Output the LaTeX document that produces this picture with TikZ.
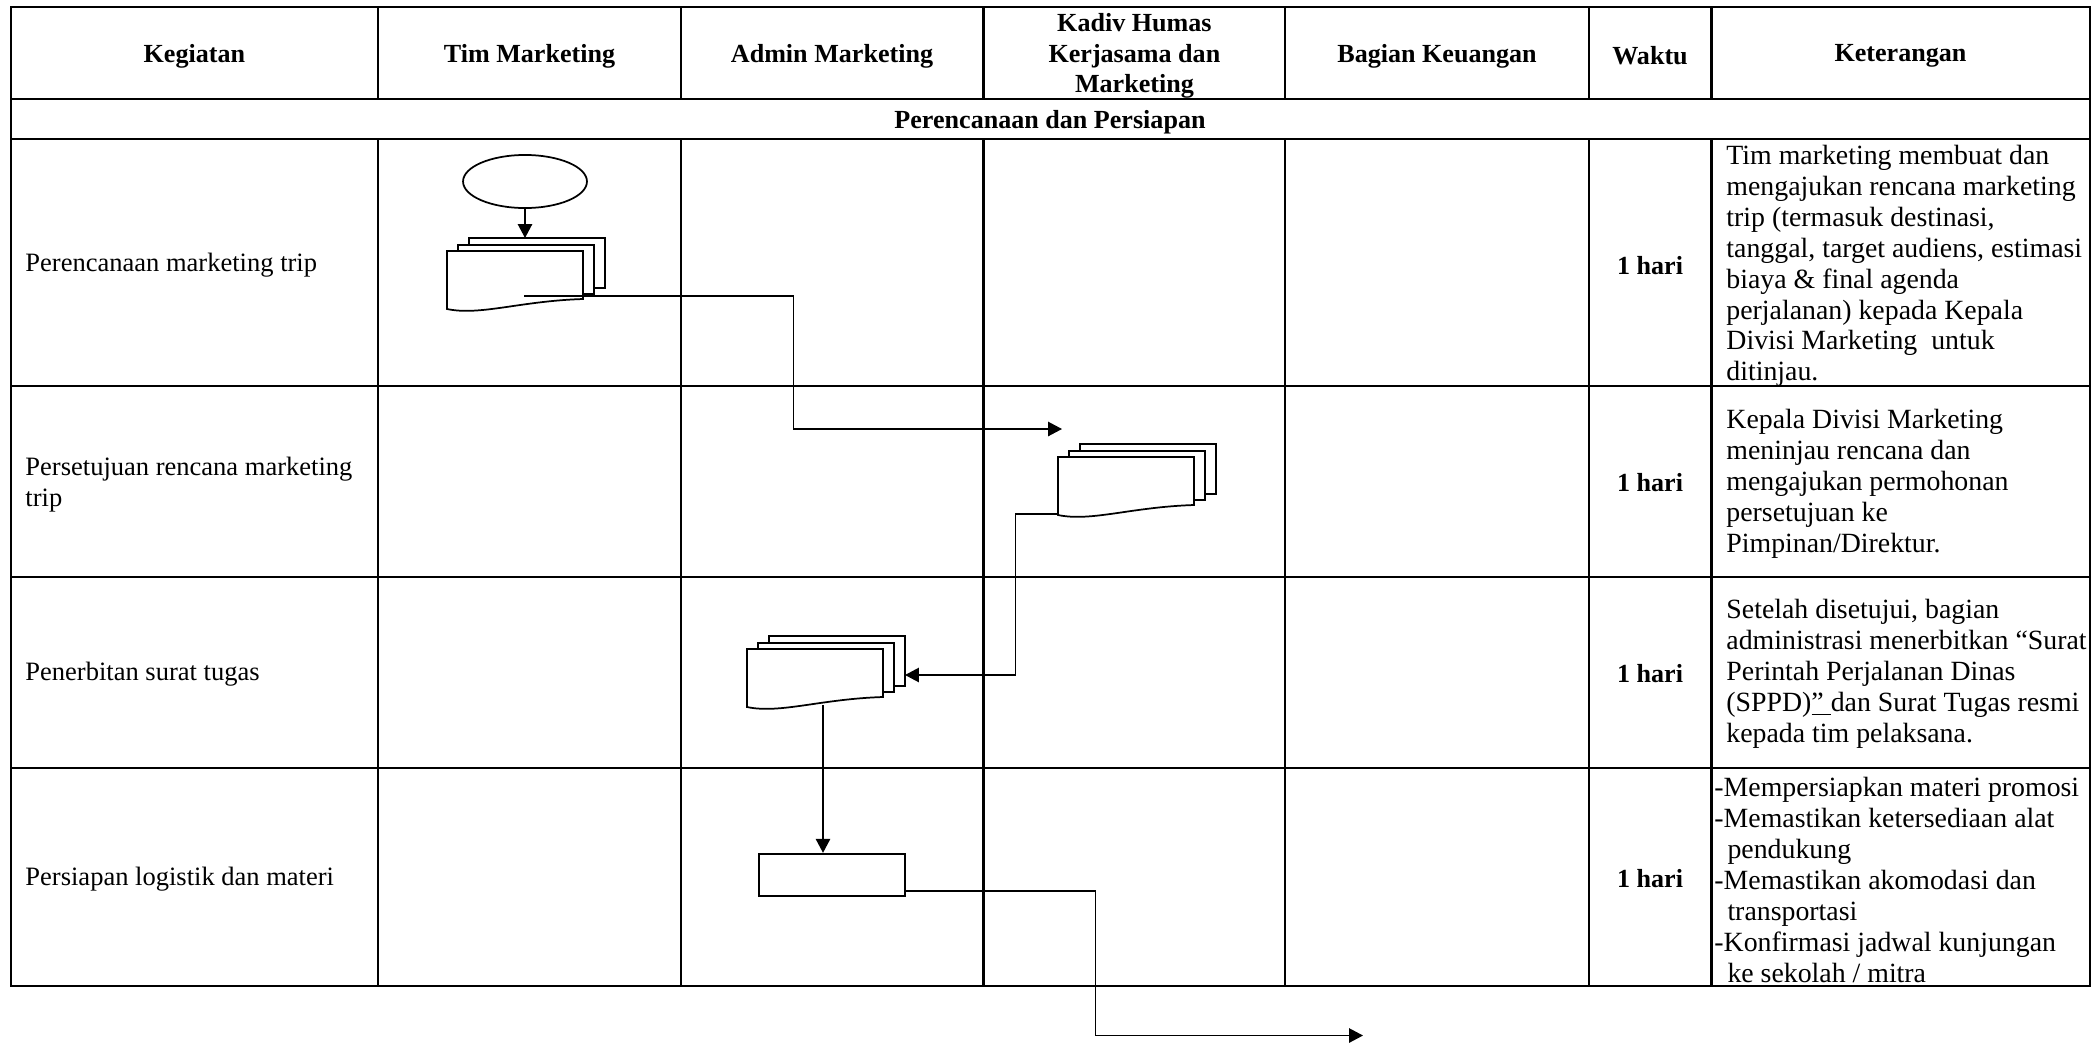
\documentclass[tikz,border=0pt]{standalone}
\usepackage{fontspec}
\setmainfont{Liberation Serif}
\usetikzlibrary{shapes.geometric,arrows.meta,calc}
\tikzset{
  grid/.style={line width=1pt},
  shp/.style={draw, line width=0.8pt, fill=white},
  conn/.style={line width=0.7pt},
  arr/.style={conn, -{Triangle[length=6.4pt,width=6.6pt]}},
  hdr/.style={font=\fontsize{12}{13.9}\selectfont\bfseries, align=center, inner sep=0pt},
  lefttxt/.style={anchor=west, align=left, inner sep=0pt, font=\fontsize{12.2}{14.2}\selectfont},
  kettxt/.style={anchor=west, align=left, inner sep=0pt, font=\fontsize{12.8}{14.2}\selectfont},
  waktu/.style={font=\fontsize{12}{13.8}\selectfont\bfseries, inner sep=0pt},
  multidoc/.pic={
    \draw[shp] (22,-13) rectangle (158,37);
    \draw[shp] (11,-6) rectangle (147,43);
    \draw[shp] (0,0) -- (136,0) -- (136,48) .. controls (73,50) and (33,65) .. (0,58) -- cycle;
    \coordinate (-in) at (78,-13);
    \coordinate (-out) at (77,45);
    \coordinate (-lb) at (0,57);
    \coordinate (-rin) at (158,26);
    \coordinate (-bot) at (76,56);
  }
}
\begin{document}
\begin{tikzpicture}[x=0.46pt,y=-0.46pt,font=\fontsize{12}{13.8}\selectfont]
\useasboundingbox (0,0) rectangle (2095,1046);
% table frame
\draw[grid] (10.7,6.7) rectangle (2089.6,986);
\foreach \yy in {98.9,139,386,577.2,768.2}
  \draw[grid] (10.7,\yy) -- (2089.6,\yy);
\foreach \xx in {378,681.4,983.4,1285.3,1588.6,1711.5} {
  \draw[grid] (\xx,6.7) -- (\xx,98.9);
  \draw[grid] (\xx,139) -- (\xx,986);
}
% header
\node[hdr] (hKeg) at (194.4,56) {Kegiatan};
\node[hdr] (hTim) at (529.5,56) {Tim Marketing};
\node[hdr] (hAdm) at (832,56) {Admin Marketing};
\node[hdr] (hKad) at (1134.4,56) {Kadiv Humas\\Kerjasama dan\\Marketing};
\node[hdr] (hKeu) at (1437,56) {Bagian Keuangan};
\node[hdr] (hWak) at (1650,56) {Waktu};
\node[hdr] (hKet) at (1900.5,56) {Keterangan};
\node[hdr] (sec) at (1050,122) {Perencanaan dan Persiapan};
% Kegiatan
\node[lefttxt] (k1) at (25,265) {Perencanaan marketing trip};
\node[lefttxt] (k2) at (25,485) {Persetujuan rencana marketing\\trip};
\node[lefttxt] (k3) at (25,674) {Penerbitan surat tugas};
\node[lefttxt] (k4) at (25,879) {Persiapan logistik dan materi};
% Waktu
\node[waktu] (w1) at (1650,266) {1 hari};
\node[waktu] (w2) at (1650,483) {1 hari};
\node[waktu] (w3) at (1650,674) {1 hari};
\node[waktu] (w4) at (1650,879) {1 hari};
% Keterangan
\node[kettxt] (t1) at (1726,266) {Tim marketing membuat dan\\mengajukan rencana marketing\\trip (termasuk destinasi,\\tanggal, target audiens, estimasi\\biaya \& final agenda\\perjalanan) kepada Kepala\\Divisi Marketing\ \ untuk\\ditinjau.};
\node[kettxt] (t2) at (1726,484) {Kepala Divisi Marketing\\meninjau rencana dan\\mengajukan permohonan\\persetujuan ke\\Pimpinan/Direktur.};
\node[kettxt] (t3) at (1726,674) {Setelah disetujui, bagian\\administrasi menerbitkan “Surat\\Perintah Perjalanan Dinas\\(SPPD)\underline{”\ }dan Surat Tugas resmi\\kepada tim pelaksana.};
\node[kettxt] (t4) at (1714,880) {-Mempersiapkan materi promosi\\-Memastikan ketersediaan alat\\\hspace*{6pt}pendukung\\-Memastikan akomodasi dan\\\hspace*{6pt}transportasi\\-Konfirmasi jadwal kunjungan\\\hspace*{6pt}ke sekolah / mitra};
% flow shapes
\node[draw, ellipse, line width=0.8pt, minimum width=57pt, minimum height=24.4pt, inner sep=0pt] (start) at (525,181.5) {};
\pic (d1) at (447,251) {multidoc};
\pic (d2) at (1058,457) {multidoc};
\pic (d3) at (747,649) {multidoc};
\node[draw, line width=1.1pt, minimum width=67.2pt, minimum height=19.3pt, inner sep=0pt] (proc) at (832,875) {};
% bends and free ends
\coordinate (b1) at (793.6,429);
\coordinate (e1) at (1062,429);
\coordinate (b2) at (1015.5,675);
\coordinate (pout) at ($(proc.south east)+(0,-6)$);
\coordinate (b3) at (1095.6,1035.5);
\coordinate (e3) at (1363,1035.5);
% connectors
\draw[arr] (start.south) -- (d1-in);
\draw[arr] (d1-out) -| (b1) -- (e1);
\draw[arr] (d2-lb) -| (b2) -- (d3-rin);
\draw[arr] (d3-bot) -- (d3-bot |- proc.north);
\draw[arr] (pout) -| (b3) -- (e3);
\end{tikzpicture}
\end{document}
